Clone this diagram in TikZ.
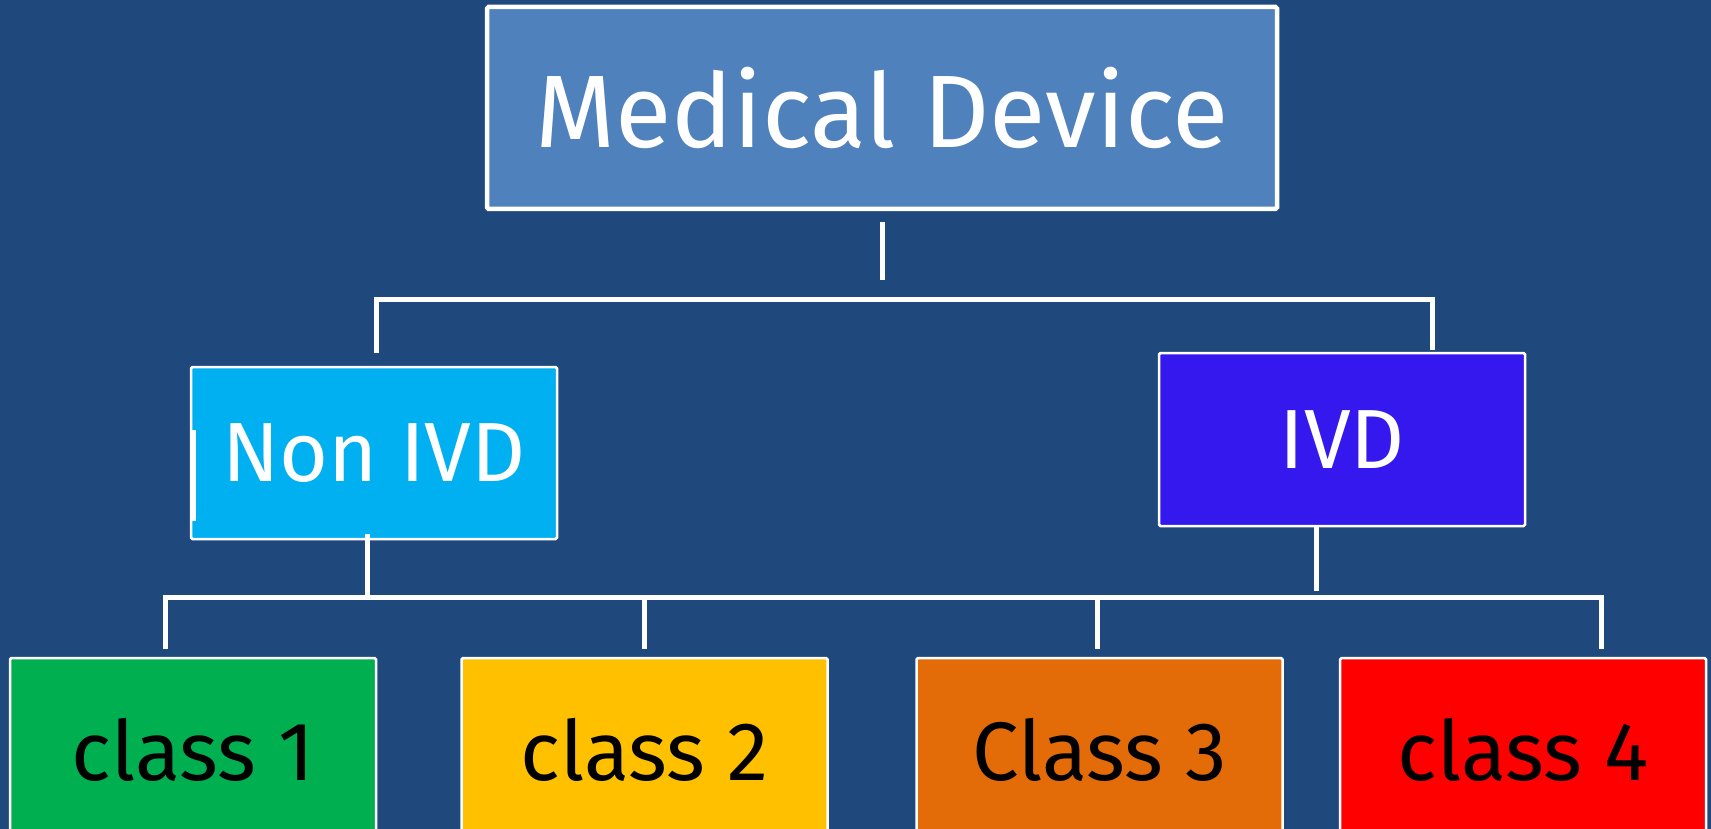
\documentclass[tikz,border=0pt]{standalone}
\usepackage{fontspec}
\setmainfont{Fira Sans}
\usetikzlibrary{calc}
\definecolor{bg}{HTML}{1F497D}
\definecolor{mdfill}{HTML}{4F81BD}
\definecolor{nonivdfill}{HTML}{00B0F0}
\definecolor{ivdfill}{HTML}{3418EE}
\definecolor{cone}{HTML}{00B050}
\definecolor{ctwo}{HTML}{FFC000}
\definecolor{cthree}{HTML}{E36C09}
\definecolor{cfour}{HTML}{FF0000}
\tikzset{
  box/.style={draw=white, line width=2.5, rounded corners=1.5, inner sep=0, text=white},
  topbox/.style={box, line width=4.5, minimum width=790, minimum height=202,
    font=\fontsize{103}{110}\selectfont},
  midbox/.style={box, minimum width=366, minimum height=173,
    font=\fontsize{84}{90}\selectfont},
  classbox/.style={box, text=black, minimum width=366, minimum height=184,
    font=\fontsize{83}{90}\selectfont},
  conn/.style={draw=white, line width=5}
}
\begin{document}
\begin{tikzpicture}[x=1pt,y=-1pt]
\useasboundingbox (0,0) rectangle (1711,829);
\clip (0,0) rectangle (1711,829);
\fill[bg] (0,0) rectangle (1711,829);

\node[topbox, fill=mdfill] (md) at (882,108) {Medical Device};
\node[midbox, fill=nonivdfill, minimum height=172] (nonivd) at (374,453) {Non IVD};
\node[midbox, fill=ivdfill] (ivd) at (1342,439.5) {IVD};

\node[classbox, fill=cone]   (c1) at (193,750)    {class 1};
\node[classbox, fill=ctwo]   (c2) at (644.5,750)  {class 2};
\node[classbox, fill=cthree] (c3) at (1099.5,750) {Class 3};
\node[classbox, fill=cfour]  (c4) at (1523,750)   {class 4};

% stray mark at the left of Non IVD
\draw[white, line width=3.5] ($(nonivd.west)+(4,-23)$) -- ($(nonivd.west)+(4,68)$);

% top level connectors
\draw[conn] ($(md.south)+(0,11)$) -- ($(md.south)+(0,69)$);
\draw[conn] ($(nonivd.north)+(2,-13)$) |- ($(md.south)+(0,88)$) -| ($(ivd.north)+(90,-2)$);

% second level connectors
\draw[conn] ($(nonivd.south)+(-7,-6)$) -- ($(nonivd.south)+(-7,60)$);
\draw[conn] ($(ivd.south)+(-26,0)$) -- ($(ivd.south)+(-26,64)$);
\draw[conn] ($(c1.north)+(-28,-8)$) |- ($(c4.north)+(78,-59)$) -- ($(c4.north)+(78,-8)$);
\draw[conn] ($(c2.north)+(0,-8)$) -- ($(c2.north)+(0,-59)$);
\draw[conn] ($(c3.north)+(-2.5,-8)$) -- ($(c3.north)+(-2.5,-59)$);
\end{tikzpicture}
\end{document}
